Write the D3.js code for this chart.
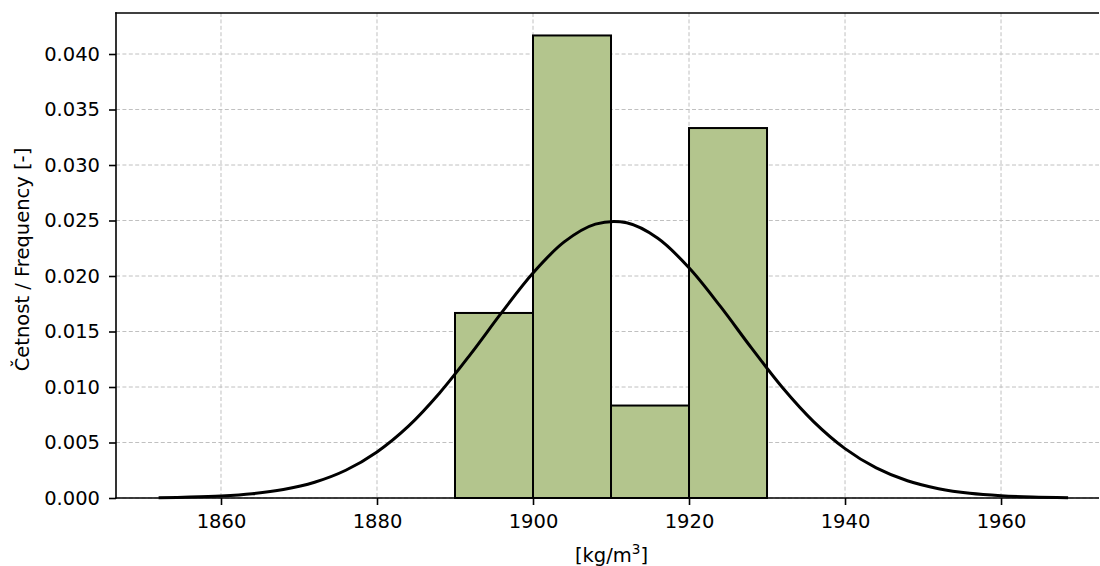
<!DOCTYPE html>
<html><head><meta charset="utf-8">
<script src="https://cdn.jsdelivr.net/npm/d3@7"></script>
<style>body{margin:0;background:#fff}svg{display:block}text{font-family:"DejaVu Sans",sans-serif;fill:#000}</style>
</head><body><svg id="c" width="1100" height="566"></svg>
<script>
const binEdges = [1890, 1900, 1910, 1920, 1930];
const binDensity = [0.01667, 0.04167, 0.00833, 0.03333];
const curveX = [1852,1856,1860,1864,1868,1872,1876,1880,1884,1888,1892,1896,1900,1904,1908,1912,1916,1920,1924,1928,1932,1936,1940,1944,1948,1952,1956,1960,1964,1968.6];
const curveY = [0.00003,0.00008,0.00018,0.00038,0.00076,0.00142,0.0025,0.00415,0.00645,0.00944,0.01296,0.01672,0.02027,0.02307,0.02467,0.02479,0.0234,0.02074,0.01728,0.01352,0.00993,0.00686,0.00445,0.00271,0.00155,0.00084,0.00042,0.0002,0.00009,0.00003];
const xTicks = [1860, 1880, 1900, 1920, 1940, 1960];
const yTicks = [0, 0.005, 0.01, 0.015, 0.02, 0.025, 0.03, 0.035, 0.04];

const L = 116, R = 1099, T = 13, B = 498;
const FS = "19.5px";
const svg = d3.select("#c");
const x = d3.scaleLinear().domain([1846.54, 1972.56]).range([L, R]);
const y = d3.scaleLinear().domain([0, 0.043694]).range([B, T]);

// grid
const grid = svg.append("g").attr("stroke", "#c0c0c0").attr("stroke-width", 1).attr("stroke-dasharray", "4,2.4");
grid.selectAll(".gx").data(xTicks).join("line").attr("x1", d => x(d)).attr("x2", d => x(d)).attr("y1", T).attr("y2", B);
grid.selectAll(".gy").data(yTicks).join("line").attr("x1", L).attr("x2", R).attr("y1", d => y(d)).attr("y2", d => y(d));

// bars
svg.append("g").selectAll("rect").data(binDensity).join("rect")
  .attr("x", (d, i) => x(binEdges[i]))
  .attr("width", (d, i) => x(binEdges[i + 1]) - x(binEdges[i]))
  .attr("y", d => y(d))
  .attr("height", d => y(0) - y(d))
  .attr("fill", "#b3c58d").attr("stroke", "#000").attr("stroke-width", 2);

// curve
const pts = curveX.map((v, i) => [v, curveY[i]]);
svg.append("path").datum(pts)
  .attr("d", d3.line().x(d => x(d[0])).y(d => y(d[1])).curve(d3.curveCatmullRom.alpha(0.5)))
  .attr("fill", "none").attr("stroke", "#000").attr("stroke-width", 3);

// axes
const xa = svg.append("g").attr("transform", `translate(0,${B})`)
  .call(d3.axisBottom(x).tickValues(xTicks).tickFormat(d3.format("d")).tickSize(7).tickPadding(9));
const ya = svg.append("g").attr("transform", `translate(${L},0)`)
  .call(d3.axisLeft(y).tickValues(yTicks).tickFormat(d3.format(".3f")).tickSize(7).tickPadding(9));
[xa, ya].forEach(a => {
  a.select(".domain").remove();
  a.selectAll(".tick line").attr("stroke", "#000").attr("stroke-width", 1.6);
  a.selectAll(".tick text").style("font-size", FS).attr("fill", "#000");
});
// spines: left, bottom, top
svg.append("line").attr("x1", L).attr("x2", L).attr("y1", T - 0.8).attr("y2", B + 0.8).attr("stroke", "#000").attr("stroke-width", 1.6);
svg.append("line").attr("x1", L - 0.8).attr("x2", R).attr("y1", B).attr("y2", B).attr("stroke", "#000").attr("stroke-width", 1.6);
svg.append("line").attr("x1", L - 0.8).attr("x2", R).attr("y1", T).attr("y2", T).attr("stroke", "#000").attr("stroke-width", 1.6);

// labels
const xl = svg.append("text").attr("x", (L + R) / 2 + 4).attr("y", 562).attr("text-anchor", "middle").style("font-size", FS);
xl.append("tspan").text("[kg/m");
xl.append("tspan").text("3").attr("dy", -8).style("font-size", "13.6px");
xl.append("tspan").text("]").attr("dy", 8);
svg.append("text").attr("transform", `translate(29,${(T + B) / 2 + 4}) rotate(-90)`).attr("text-anchor", "middle")
  .style("font-size", FS).text("Četnost / Frequency [-]");
</script></body></html>
